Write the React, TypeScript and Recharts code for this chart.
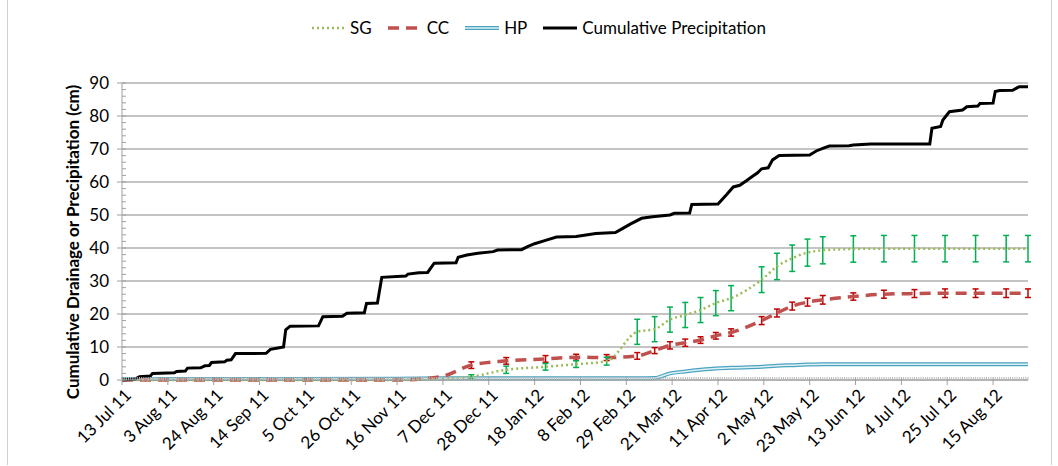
import React from 'react';
import { LineChart, Line, XAxis, YAxis, CartesianGrid, ErrorBar } from 'recharts';

// days since 13 Jul 11
const tickDays = [0, 21, 42, 63, 84, 105, 126, 147, 168, 189, 210, 231, 252, 273, 294, 315, 336, 357, 378, 399];
const tickLabels = [
  '13 Jul 11', '3 Aug 11', '24 Aug 11', '14 Sep 11', '5 Oct 11', '26 Oct 11', '16 Nov 11',
  '7 Dec 11', '28 Dec 11', '18 Jan 12', '8 Feb 12', '29 Feb 12', '21 Mar 12', '11 Apr 12',
  '2 May 12', '23 May 12', '13 Jun 12', '4 Jul 12', '25 Jul 12', '15 Aug 12',
];
const yTicks = [0, 10, 20, 30, 40, 50, 60, 70, 80, 90];

const precipDays = [
  0, 6, 8, 13, 14, 24, 25, 29, 30, 36, 38, 40, 41, 47, 48, 50, 52, 66, 68, 72, 74, 75, 77, 90, 92,
  101, 103, 111, 112, 117, 119, 130, 131, 136, 140, 143, 153, 154, 158, 163, 170, 172, 183, 186, 189,
  194, 199, 208, 217, 226, 229, 233, 238, 243, 251, 253, 260, 261, 273, 275, 277, 280, 283, 286, 289,
  291, 293, 296, 298, 301, 315, 318, 321, 324, 333, 335, 343, 370, 371, 375, 376, 379, 385, 387, 392,
  393, 399, 400, 402, 408, 411, 415,
];
const precipValues = [
  0, 0.3, 1.0, 1.2, 2.0, 2.2, 2.6, 2.7, 3.6, 3.7, 4.3, 4.4, 5.3, 5.5, 6.0, 6.1, 8.0, 8.1, 9.3, 9.8, 10.0, 15.2, 16.3, 16.4, 19.2,
  19.3, 20.2, 20.4, 23.2, 23.3, 31.1, 31.5, 32.1, 32.5, 32.6, 35.4, 35.5, 37.2, 37.9, 38.4, 38.9, 39.4, 39.5, 40.5, 41.3,
  42.3, 43.3, 43.5, 44.4, 44.7, 45.8, 47.3, 49.0, 49.5, 50.0, 50.5, 50.6, 53.2, 53.3, 54.8, 56.2, 58.5, 59.0, 60.4, 61.8,
  62.7, 64.0, 64.3, 66.7, 68.0, 68.2, 69.4, 70.2, 70.9, 71.0, 71.2, 71.5, 71.5, 76.3, 76.8, 78.8, 81.3, 81.8, 82.8, 83.0,
  83.8, 83.9, 87.4, 87.7, 87.8, 88.9, 88.9,
];

const drainDays = [0, 127, 146, 160, 176, 194, 208, 222, 236, 244, 251, 258, 265, 272, 279, 293, 300, 307, 314, 321, 335, 349, 363, 377, 391, 405, 415];
const sgValues = [0, 0, 0.3, 1.0, 3.1, 4.0, 4.8, 5.7, 14.6, 15.4, 18.3, 19.7, 21.2, 23.3, 24.8, 30.4, 34.4, 36.9, 38.6, 39.3, 39.7, 39.8, 39.8, 39.8, 39.8, 39.8, 39.8];
const sgErr = [null, null, null, 0.6, 1.1, 1.0, 1.0, 1.2, 3.8, 3.8, 3.8, 3.8, 3.8, 3.8, 3.8, 3.9, 4.0, 4.0, 4.1, 4.1, 4.0, 4.0, 4.0, 4.0, 4.0, 4.0, 4.0];
const ccValues = [0, 0, 1.0, 4.5, 5.8, 6.4, 6.9, 6.8, 7.3, 8.9, 10.5, 11.3, 12.1, 13.4, 14.4, 18.0, 20.3, 22.4, 23.6, 24.3, 25.3, 26.0, 26.2, 26.3, 26.3, 26.3, 26.3];
const ccErr = [null, null, null, 1.0, 1.0, 1.0, 0.9, 0.9, 1.0, 0.9, 1.1, 1.1, 1.0, 1.0, 1.1, 1.2, 1.2, 1.2, 1.2, 1.3, 1.1, 1.2, 1.2, 1.3, 1.3, 1.3, 1.3];
const hpValues = [0.3, 0.4, 0.5, 0.5, 0.5, 0.5, 0.5, 0.5, 0.5, 0.6, 2.0, 2.6, 3.1, 3.5, 3.7, 4.0, 4.3, 4.5, 4.7, 4.8, 4.8, 4.8, 4.8, 4.8, 4.8, 4.8, 4.8];

const precipData = precipDays.map((day, i) => ({ day, value: precipValues[i] }));
const sgData = drainDays.map((day, i) => ({ day, value: sgValues[i], err: sgErr[i] }));
const ccData = drainDays.map((day, i) => ({ day, value: ccValues[i], err: ccErr[i] }));
const hpData = drainDays.map((day, i) => ({ day, value: hpValues[i] }));

// one minor tick per day on x, every 2 cm on y
const xAllTicks = Array.from({ length: 416 }, (_, i) => i);
const yAllTicks = Array.from({ length: 46 }, (_, i) => i * 2);

const FONT = 'Lato, "Open Sans", sans-serif';

const DateTick = (props: any) => {
  const { x, y, payload } = props;
  const idx = tickDays.indexOf(payload.value);
  if (idx < 0) {
    return <line x1={x} y1={y - 3} x2={x} y2={y} stroke="#b8b8b8" strokeWidth={1} />;
  }
  return (
    <g>
      <line x1={x} y1={y - 3} x2={x} y2={y + 5} stroke="#a0a0a0" strokeWidth={1} />
      <g transform={`translate(${x + 6},${y + 12})`}>
        <text x={0} y={0} dy="0.35em" textAnchor="end" transform="rotate(-45)" fontSize={17} fill="#000" fontFamily={FONT}>
          {tickLabels[idx]}
        </text>
      </g>
    </g>
  );
};

const ValueTick = (props: any) => {
  const { x, y, payload } = props;
  if (!yTicks.includes(payload.value)) {
    return <line x1={x} y1={y} x2={x + 4} y2={y} stroke="#a0a0a0" strokeWidth={1} />;
  }
  return (
    <g>
      <line x1={x - 5} y1={y} x2={x + 4} y2={y} stroke="#a0a0a0" strokeWidth={1} />
      <text x={x - 13} y={y} dy="0.35em" textAnchor="end" fontSize={17} fill="#000" fontFamily={FONT}>
        {payload.value}
      </text>
    </g>
  );
};

const Swatch = ({ kind }: { kind: string }) => (
  <svg width={34} height={10} style={{ marginRight: 5 }}>
    {kind === 'sg' && <line x1={1} y1={5} x2={34} y2={5} stroke="#9bbb59" strokeWidth={2.5} strokeDasharray="2 3" />}
    {kind === 'cc' && <line x1={0} y1={5} x2={34} y2={5} stroke="#c0504d" strokeWidth={3.5} strokeDasharray="11 7" />}
    {kind === 'hp' && (
      <>
        <line x1={0} y1={5} x2={34} y2={5} stroke="#4aa3c0" strokeWidth={4} />
        <line x1={0} y1={5} x2={34} y2={5} stroke="#dcf0f6" strokeWidth={1.5} />
      </>
    )}
    {kind === 'pr' && <line x1={0} y1={5} x2={34} y2={5} stroke="#000" strokeWidth={3} />}
  </svg>
);

const legendItems = [
  { kind: 'sg', name: 'SG' },
  { kind: 'cc', name: 'CC' },
  { kind: 'hp', name: 'HP' },
  { kind: 'pr', name: 'Cumulative Precipitation' },
];

export default function App() {
  return (
    <div style={{ position: 'absolute', left: 0, top: 0, width: 1058, height: 466, background: '#fff', fontFamily: FONT }}>
      <div style={{ position: 'absolute', left: 7, top: 0, width: 1043, height: 465, borderLeft: '1px solid #d0d0d0', borderRight: '1px solid #d0d0d0' }} />
      <div style={{ position: 'absolute', left: 311, top: 17, display: 'flex', alignItems: 'center', fontSize: 17, color: '#000' }}>
        {legendItems.map((it) => (
          <div key={it.kind} style={{ display: 'flex', alignItems: 'center', marginRight: 16 }}>
            <Swatch kind={it.kind} />
            <span>{it.name}</span>
          </div>
        ))}
      </div>
      <div
        style={{
          position: 'absolute', left: 72, top: 242, transform: 'translate(-50%, -50%) rotate(-90deg)',
          whiteSpace: 'nowrap', fontWeight: 'bold', fontSize: 17, color: '#000',
        }}
      >
        Cumulative Drainage or Precipitation (cm)
      </div>
      <div style={{ position: 'absolute', left: 0, top: 0 }}>
        <LineChart width={1058} height={466} margin={{ top: 83, right: 30, bottom: 0, left: 62 }}>
          <CartesianGrid vertical={false} horizontalValues={yTicks} stroke="#b0b0b0" strokeWidth={1.5} />
          <XAxis
            dataKey="day"
            type="number"
            domain={[0, 415]}
            allowDataOverflow
            ticks={xAllTicks}
            interval={0}
            height={86}
            tickSize={0}
            tickMargin={0}
            tickLine={false}
            stroke="#a0a0a0"
            tick={<DateTick />}
          />
          <YAxis
            type="number"
            domain={[0, 90]}
            ticks={yAllTicks}
            interval={0}
            width={60}
            tickSize={0}
            tickMargin={0}
            tickLine={false}
            stroke="#a0a0a0"
            tick={<ValueTick />}
          />
          <Line data={hpData} dataKey="value" type="monotone" stroke="#4aa3c0" strokeWidth={4} dot={false} isAnimationActive={false} />
          <Line data={hpData} dataKey="value" type="monotone" stroke="#dcf0f6" strokeWidth={1.5} dot={false} isAnimationActive={false} />
          <Line data={ccData} dataKey="value" type="monotone" stroke="#c0504d" strokeWidth={3.5} strokeDasharray="11 7" dot={false} isAnimationActive={false}>
            <ErrorBar dataKey="err" direction="y" width={3} stroke="#c00000" strokeWidth={1.5} />
          </Line>
          <Line data={sgData} dataKey="value" type="monotone" stroke="#9bbb59" strokeWidth={2.5} strokeDasharray="2 3" dot={false} isAnimationActive={false}>
            <ErrorBar dataKey="err" direction="y" width={3} stroke="#00b050" strokeWidth={1.5} />
          </Line>
          <Line data={precipData} dataKey="value" type="linear" stroke="#000" strokeWidth={3} dot={false} isAnimationActive={false} />
        </LineChart>
      </div>
    </div>
  );
}
